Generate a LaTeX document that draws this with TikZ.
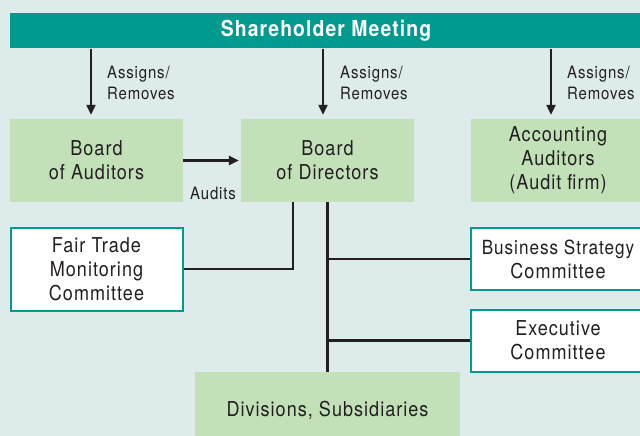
\documentclass[tikz,border=0pt]{standalone}
\usepackage{fontspec}
\setmainfont{TeX Gyre Heros}[FakeStretch=0.88, LetterSpace=5]
\usetikzlibrary{arrows.meta}
\definecolor{bg}{HTML}{DDEBEA}
\definecolor{teal}{HTML}{009A8F}
\definecolor{boxgreen}{HTML}{C3E1B9}
\definecolor{txt}{HTML}{231F20}
\tikzset{
  greenbox/.style={fill=boxgreen, draw=none, inner sep=0pt, align=center, text=txt,
    font=\fontsize{20.5}{24}\selectfont},
  whitebox/.style={fill=white, draw=teal, line width=2pt, inner sep=0pt, align=center, text=txt,
    font=\fontsize{20.5}{24}\selectfont},
  lbl/.style={text=txt, align=left, inner sep=0pt, font=\fontsize{17}{21}\selectfont},
  arr/.style={draw=txt, line width=2.2pt, -{Triangle[length=10pt,width=9pt]}},
  conn/.style={draw=txt, line width=2.5pt},
}
\begin{document}
\begin{tikzpicture}[x=1pt,y=-1pt]
\fill[bg] (0,0) rectangle (640,436);
\useasboundingbox (0,0) rectangle (640,436);
% banner
\node[fill=teal, minimum width=640pt, minimum height=35pt, inner sep=0pt,
  text=white, font=\fontsize{22}{24}\bfseries\selectfont] (sh) at (330,31) {\hspace*{-8pt}Shareholder Meeting};
% boxes
\node[greenbox, minimum width=173pt, minimum height=83pt] (aud) at (96.5,160.5) {Board\\of Auditors};
\node[greenbox, minimum width=173pt, minimum height=83pt] (dir) at (327.5,160.5) {Board\\of Directors};
\node[greenbox, minimum width=174pt, minimum height=83pt] (acc) at (558,160.5) {Accounting\\Auditors\\(Audit firm)};
\node[whitebox, minimum width=172pt, minimum height=83pt] (ft) at (96.5,269) {Fair Trade\\Monitoring\\Committee};
\node[whitebox, minimum width=174pt, minimum height=62pt] (bs) at (558,259) {\fontsize{19.5}{24}\selectfont Business Strategy\\Committee};
\node[whitebox, minimum width=174pt, minimum height=62pt] (ex) at (558,340.5) {Executive\\Committee};
\node[greenbox, minimum width=265pt, minimum height=76pt] (div) at (327.5,410) {Divisions, Subsidiaries};
% arrow positions
\coordinate (a1) at (91,0);
\coordinate (a2) at (323,0);
\coordinate (a3) at (551,0);
\coordinate (c1) at (293,0);
\draw[arr, shorten >=4pt] (sh.south -| a1) -- (a1 |- aud.north);
\draw[arr, shorten >=4pt] (sh.south -| a2) -- (a2 |- dir.north);
\draw[arr, shorten >=4pt] (sh.south -| a3) -- (a3 |- acc.north);
\node[lbl, anchor=west] (l1) at (107,83) {Assigns/\\Removes};
\node[lbl, anchor=west] (l2) at (340,83) {Assigns/\\Removes};
\node[lbl, anchor=west] (l3) at (567,83) {Assigns/\\Removes};
% audits
\draw[arr, line width=3pt, shorten >=2pt] (aud.east) -- (dir.west);
\node[lbl] (la) at (213,193) {Audits};
% connectors
\draw[conn] (ft.east) -| (c1 |- dir.south);
\draw[conn] (dir.south) -- (div.north);
\draw[conn] (bs.west -| dir.south) -- (bs.west);
\draw[conn] (ex.west -| dir.south) -- (ex.west);
\end{tikzpicture}
\end{document}
